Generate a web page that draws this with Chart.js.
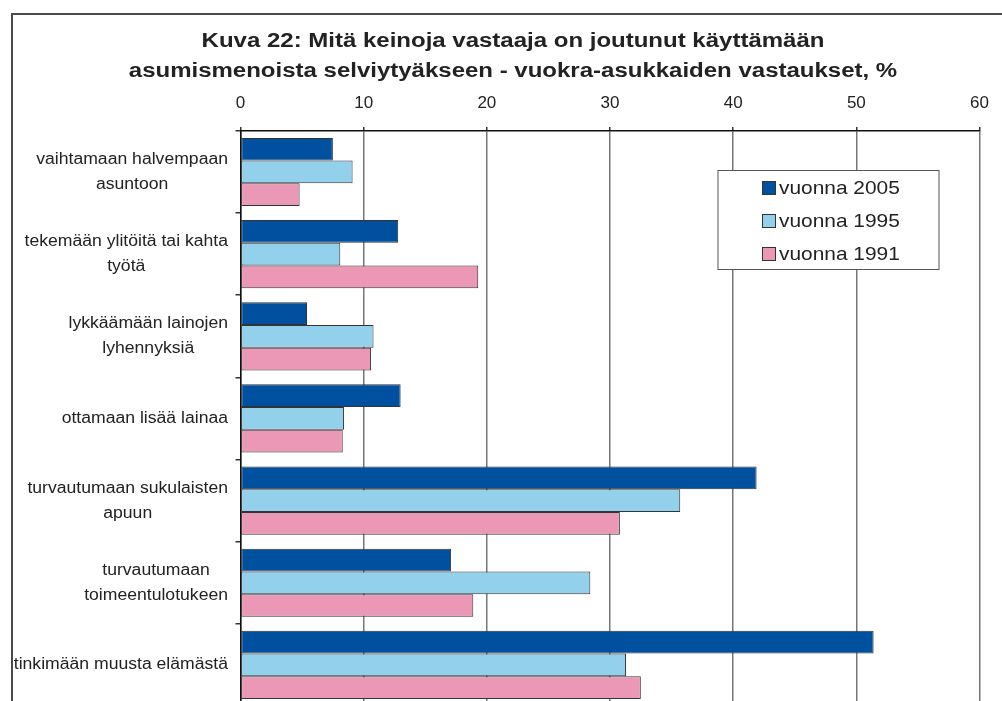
<!DOCTYPE html>
<html>
<head>
<meta charset="utf-8">
<script src="https://cdn.jsdelivr.net/npm/chart.js@4.4.1/dist/chart.umd.min.js"></script>
<style>
    html, body { margin: 0; padding: 0; background: #fff; overflow: hidden; width: 1002px; height: 701px; }
    #frame { position: absolute; left: 11px; top: 13px; width: 1100px; height: 800px; border-left: 2px solid #4a4a4a; border-top: 2px solid #4a4a4a; }
    #chart { position: absolute; left: 0; top: 0; }
</style>
</head>
<body>
<div id="frame"></div>
<canvas id="chart" width="1002" height="712"></canvas>
<script>
// Kuva 22 - vuokra-asukkaiden vastaukset, %
const categories = [
    ['vaihtamaan halvempaan', 'asuntoon'],
    ['tekemään ylitöitä tai kahta', 'työtä'],
    ['lykkäämään lainojen', 'lyhennyksiä'],
    ['ottamaan lisää lainaa'],
    ['turvautumaan sukulaisten', 'apuun'],
    ['turvautumaan', 'toimeentulotukeen'],
    ['tinkimään muusta elämästä']
];
const seriesLabels = ['vuonna 2005', 'vuonna 1995', 'vuonna 1991'];
const values2005 = [7.5, 12.8, 5.4, 13.0, 41.9, 17.1, 51.4];
const values1995 = [9.1, 8.1, 10.8, 8.4, 35.7, 28.4, 31.3];
const values1991 = [4.8, 19.3, 10.6, 8.3, 30.8, 18.9, 32.5];
const xMin = 0, xMax = 60, xStep = 10;
const titleLines = [
    'Kuva 22: Mitä keinoja vastaaja on joutunut käyttämään',
    'asumismenoista selviytyäkseen - vuokra-asukkaiden vastaukset, %'
];

const FONT = '"Liberation Sans", Arial, sans-serif';
const TEXT = '#222';
Chart.defaults.font.family = FONT;
Chart.defaults.color = TEXT;

// vaakasuunnassa venytetty teksti (alkuperäinen kuva on skaalattu)
function stretchedText(ctx, text, x, y, sx) {
    ctx.save();
    ctx.translate(x, y);
    ctx.scale(sx, 1);
    ctx.fillText(text, 0, 0);
    ctx.restore();
}

const titlePlugin = {
    id: 'wideTitle',
    afterDraw(chart) {
        const ctx = chart.ctx;
        ctx.save();
        ctx.font = 'bold 20px ' + FONT;
        ctx.fillStyle = TEXT;
        ctx.textAlign = 'center';
        ctx.textBaseline = 'middle';
        titleLines.forEach((t, i) => stretchedText(ctx, t, 513, 41 + i * 30, 1.2));
        ctx.restore();
    }
};

// rivien nimet: keskitetyt rivit, lohko tasattu oikealle
const yLabelsPlugin = {
    id: 'yLabels',
    afterDraw(chart) {
        const ctx = chart.ctx;
        const y = chart.scales.y;
        const right = 228, lh = 25, sx = 1.1;
        ctx.save();
        ctx.font = '16px ' + FONT;
        ctx.fillStyle = TEXT;
        ctx.textBaseline = 'middle';
        ctx.textAlign = 'center';
        categories.forEach((lines, i) => {
            const cy = y.getPixelForValue(i);
            const w = Math.max(...lines.map(l => ctx.measureText(l).width)) * sx;
            const cx = right - w / 2;
            lines.forEach((l, j) => {
                stretchedText(ctx, l, cx, cy + (j - (lines.length - 1) / 2) * lh, sx);
            });
        });
        ctx.restore();
    }
};

// selite laatikossa kuva-alueen sisällä
const legendBoxPlugin = {
    id: 'legendBox',
    afterDraw(chart) {
        const ctx = chart.ctx;
        const bx = 718, by = 170.5, bw = 221, bh = 99;
        ctx.save();
        ctx.fillStyle = '#fff';
        ctx.fillRect(bx, by, bw, bh);
        ctx.strokeStyle = '#555';
        ctx.lineWidth = 1;
        ctx.strokeRect(bx, by, bw, bh);
        ctx.font = '19px ' + FONT;
        ctx.textBaseline = 'middle';
        ctx.textAlign = 'left';
        chart.data.datasets.forEach((ds, i) => {
            const cy = by + 17.5 + i * 33;
            ctx.fillStyle = ds.backgroundColor;
            ctx.fillRect(762.5, cy - 6.5, 13, 13);
            ctx.strokeStyle = '#333';
            ctx.strokeRect(762.5, cy - 6.5, 13, 13);
            ctx.fillStyle = TEXT;
            stretchedText(ctx, ds.label, 779, cy + 1, 1.1);
        });
        ctx.restore();
    }
};

function makeDataset(label, data, color) {
    return {
        label,
        data,
        backgroundColor: color,
        borderColor: '#333',
        borderWidth: 1,
        borderSkipped: false,
        barPercentage: 1.0,
        categoryPercentage: 0.83
    };
}

new Chart(document.getElementById('chart'), {
    type: 'bar',
    data: {
        labels: categories,
        datasets: [
            makeDataset(seriesLabels[0], values2005, '#0050a0'),
            makeDataset(seriesLabels[1], values1995, '#93d0ec'),
            makeDataset(seriesLabels[2], values1991, '#ea98b5')
        ]
    },
    options: {
        indexAxis: 'y',
        responsive: false,
        animation: false,
        layout: { padding: { left: 12, right: 10, top: 80.5, bottom: 6 } },
        plugins: {
            legend: { display: false },
            tooltip: { enabled: false },
            title: { display: false }
        },
        scales: {
            x: {
                position: 'top',
                min: xMin,
                max: xMax,
                ticks: { stepSize: xStep, font: { size: 17 }, color: TEXT, padding: 13 },
                grid: { color: '#777', lineWidth: 1.5, tickLength: 4, tickColor: '#333' },
                border: { color: '#111', width: 1.5 }
            },
            y: {
                afterFit: s => { s.width = 228.5; },
                ticks: { display: false },
                grid: { offset: true, drawOnChartArea: false, tickLength: 5, color: '#333', lineWidth: 1.5 },
                border: { color: '#111', width: 1.5 }
            }
        }
    },
    plugins: [titlePlugin, yLabelsPlugin, legendBoxPlugin]
});
</script>
</body>
</html>
